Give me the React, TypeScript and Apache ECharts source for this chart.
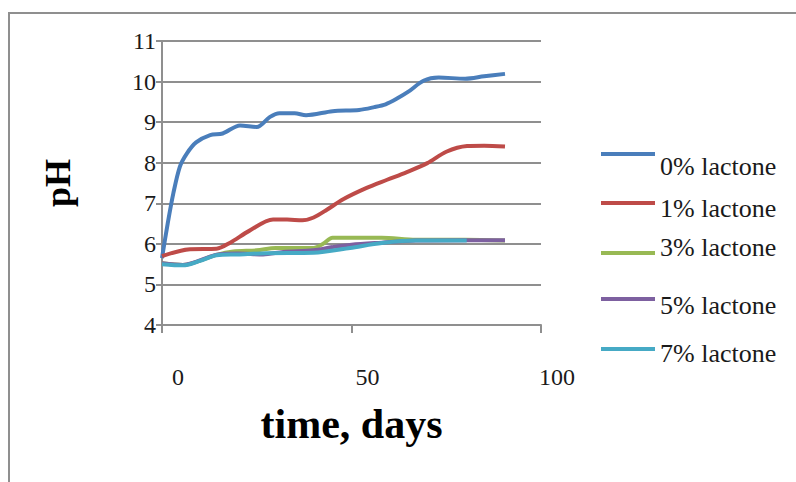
import React, { useEffect, useRef } from "react";
import * as echarts from "echarts";

const seriesNames = ["0% lactone", "1% lactone", "3% lactone", "5% lactone", "7% lactone"];
const colors = ["#4A7EBB", "#BE4B48", "#98B954", "#7D60A0", "#46AAC5"];

const days0 = [0, 1.5, 3, 4.7, 6.5, 9, 12.7, 16, 20.6, 25, 28.5, 31, 35, 38, 45, 52, 56, 59, 62, 65, 69, 73, 80, 85, 90.5];
const ph0 = [5.65, 6.5, 7.25, 7.9, 8.22, 8.5, 8.68, 8.72, 8.92, 8.88, 9.13, 9.22, 9.22, 9.17, 9.27, 9.3, 9.37, 9.44, 9.58, 9.75, 10.02, 10.1, 10.07, 10.13, 10.19];

const days1 = [0, 7.4, 14.4, 18, 23, 29.3, 33, 37, 40, 43.5, 47.8, 54, 59.4, 64.6, 70, 75, 80.5, 85, 90.5];
const ph1 = [5.7, 5.87, 5.88, 6.03, 6.32, 6.6, 6.6, 6.58, 6.65, 6.84, 7.1, 7.38, 7.58, 7.77, 7.99, 8.27, 8.41, 8.42, 8.4];

const days3 = [0, 5.5, 14.4, 18.8, 25, 30, 40, 42.5, 45, 58, 67, 80, 90.5];
const ph3 = [5.52, 5.48, 5.73, 5.81, 5.84, 5.9, 5.9, 6.0, 6.15, 6.15, 6.1, 6.1, 6.08];

const days5 = [0, 5.5, 14.4, 20, 26.7, 32, 40, 45, 50, 58, 67, 80, 90.5];
const ph5 = [5.52, 5.48, 5.73, 5.76, 5.74, 5.8, 5.84, 5.92, 5.98, 6.03, 6.08, 6.09, 6.09];

const days7 = [0, 5.5, 10, 14.4, 20, 27.6, 40, 49.6, 58, 67, 80.4];
const ph7 = [5.5, 5.47, 5.58, 5.72, 5.74, 5.77, 5.78, 5.9, 6.02, 6.08, 6.08];

const allDays = [days0, days1, days3, days5, days7];
const allPh = [ph0, ph1, ph3, ph5, ph7];

const FONT = "Liberation Serif";

// legend box top, text offset (text centre minus icon centre)
const legendTops = [129, 185, 234, 280, 332];
const legendTextOffset = [12, 5, -6, 6, 4];

export default function App() {
  const ref = useRef<HTMLDivElement>(null);
  useEffect(() => {
    if (!ref.current) return;
    const chart = echarts.init(ref.current, undefined, { renderer: "svg" });
    const gray = "#8f8f8f";
    chart.setOption({
      animation: false,
      backgroundColor: "#ffffff",
      graphic: [
        {
          type: "rect",
          shape: { x: 9, y: 13, width: 800, height: 480 },
          style: { fill: "none", stroke: gray, lineWidth: 2 },
          silent: true,
        },
      ],
      grid: { left: 162, right: 255, top: 41, bottom: 157, containLabel: false },
      legend: seriesNames.map((n, i) => {
        const off = legendTextOffset[i];
        const lh = Math.abs(off) * 2;
        return {
          data: [n],
          left: 601,
          top: legendTops[i],
          padding: 0,
          icon: "rect",
          itemWidth: 54,
          itemHeight: 4,
          selectedMode: false,
          formatter: off >= 0 ? "\n{name}" : "{name}\n",
          textStyle: { fontFamily: FONT, fontSize: 26, color: "#1a1a1a", lineHeight: lh },
        };
      }),
      xAxis: {
        type: "value",
        min: 0,
        max: 100,
        interval: 50,
        name: "time, days",
        nameLocation: "middle",
        nameGap: 78,
        nameTextStyle: { fontFamily: FONT, fontSize: 42, fontWeight: "bold", color: "#000" },
        axisLine: { show: true, lineStyle: { color: gray, width: 2 } },
        axisTick: { show: true, length: 8, lineStyle: { color: gray, width: 2 } },
        splitLine: { show: false },
        axisLabel: {
          fontFamily: FONT,
          fontSize: 24,
          color: "#1a1a1a",
          margin: 40,
          padding: [0, 0, 0, 32],
        },
      },
      yAxis: {
        type: "value",
        min: 4,
        max: 11,
        interval: 1,
        name: "pH",
        nameLocation: "middle",
        nameRotate: 90,
        nameGap: 86,
        nameTextStyle: { fontFamily: FONT, fontSize: 36, fontWeight: "bold", color: "#000" },
        axisLine: { show: true, lineStyle: { color: gray, width: 2 } },
        axisTick: { show: true, length: 6, lineStyle: { color: gray, width: 2 } },
        splitLine: { show: true, lineStyle: { color: gray, width: 2 } },
        axisLabel: { fontFamily: FONT, fontSize: 24, color: "#1a1a1a", margin: 6 },
      },
      series: seriesNames.map((n, i) => ({
        name: n,
        type: "line",
        data: allDays[i].map((d, j) => [d, allPh[i][j]]),
        showSymbol: false,
        symbol: "none",
        smooth: 0.3,
        color: colors[i],
        lineStyle: { width: 4, color: colors[i] },
      })),
    });
    return () => chart.dispose();
  }, []);
  return (
    <div
      ref={ref}
      style={{ position: "absolute", left: 0, top: 0, width: 796, height: 482, background: "#fff" }}
    />
  );
}
